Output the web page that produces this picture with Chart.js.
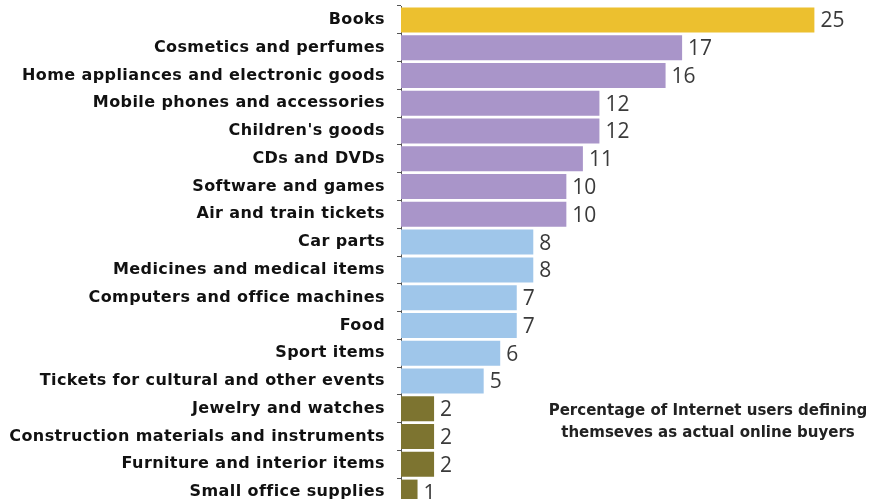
<!DOCTYPE html>
<html>
<head>
<meta charset="utf-8">
<script src="https://cdn.jsdelivr.net/npm/chart.js@4/dist/chart.umd.min.js"></script>
<style>
  html, body { margin: 0; padding: 0; background: #fff; overflow: hidden; }
  #wrap { position: relative; width: 870px; height: 510px; }
  #note {
    position: absolute; left: 528px; top: 399px; width: 360px;
    text-align: center; font: bold 15px "DejaVu Sans", sans-serif;
    color: #222; line-height: 22px;
  }
</style>
</head>
<body>
<div id="wrap">
  <canvas id="chart" width="870" height="510"></canvas>
  <div id="note">Percentage of Internet users defining<br>themseves as actual online buyers</div>
</div>
<script>
// 类别
const categories = [
    "Books",
    "Cosmetics and perfumes",
    "Home appliances and electronic goods",
    "Mobile phones and accessories",
    "Children's goods",
    "CDs and DVDs",
    "Software and games",
    "Air and train tickets",
    "Car parts",
    "Medicines and medical items",
    "Computers and office machines",
    "Food",
    "Sport items",
    "Tickets for cultural and other events",
    "Jewelry and watches",
    "Construction materials and instruments",
    "Furniture and interior items",
    "Small office supplies"
];

// 百分比
const values = [25, 17, 16, 12, 12, 11, 10, 10, 8, 8, 7, 7, 6, 5, 2, 2, 2, 1];

// 分组（决定颜色）
const groups = [0, 1, 1, 1, 1, 1, 1, 1, 2, 2, 2, 2, 2, 2, 3, 3, 3, 3];
const groupColors = ["#ECC02F", "#A995C9", "#9FC6EA", "#7D7430"];

// 标签字间距稍宽一些
const labelSpacing = {
    id: "labelSpacing",
    beforeDraw(chart) {
        chart.ctx.letterSpacing = "0.4px";
    }
};

// 在柱子末端画数值
const valueLabels = {
    id: "valueLabels",
    afterDatasetsDraw(chart) {
        const c = chart.ctx;
        const meta = chart.getDatasetMeta(0);
        c.save();
        c.letterSpacing = "0px";
        c.font = "21px 'Open Sans', sans-serif";
        c.fillStyle = "#3a3a3a";
        c.textAlign = "left";
        c.textBaseline = "middle";
        meta.data.forEach((bar, i) => {
            c.fillText(String(values[i]), bar.x + 6, bar.y + 1.5);
        });
        c.restore();
    }
};

new Chart(document.getElementById("chart").getContext("2d"), {
    type: "bar",
    data: {
        labels: categories,
        datasets: [{
            data: values,
            backgroundColor: groups.map(g => groupColors[g]),
            borderWidth: 0,
            categoryPercentage: 0.9,
            barPercentage: 1
        }]
    },
    options: {
        indexAxis: "y",
        responsive: false,
        animation: false,
        layout: { padding: { left: 0, right: 6, top: 6, bottom: 4 } },
        plugins: {
            legend: { display: false },
            tooltip: { enabled: false }
        },
        scales: {
            x: {
                display: false,
                min: 0,
                max: 28
            },
            y: {
                afterFit(scale) {
                    scale.width = 401;
                    scale.paddingTop = 0;
                    scale.paddingBottom = 0;
                },
                border: { display: true, color: "#555", width: 1 },
                grid: {
                    drawOnChartArea: false,
                    drawTicks: true,
                    tickLength: 4,
                    color: "#555"
                },
                ticks: {
                    padding: 12,
                    color: "#111",
                    font: { family: "'DejaVu Sans', sans-serif", weight: "bold", size: 16 }
                }
            }
        }
    },
    plugins: [labelSpacing, valueLabels]
});
</script>
</body>
</html>
